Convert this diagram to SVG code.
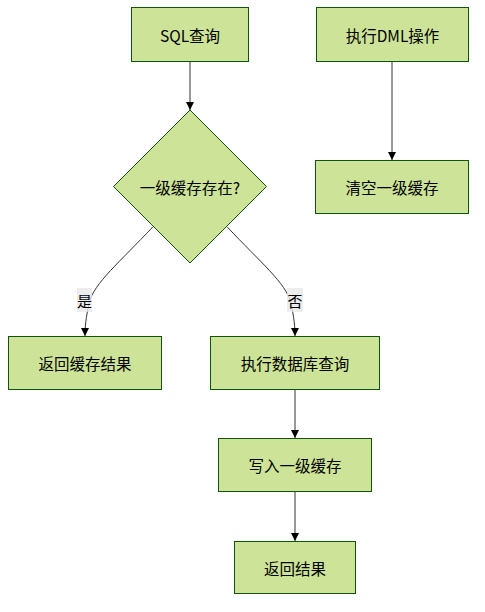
<svg xmlns="http://www.w3.org/2000/svg" width="485" height="612" viewBox="0 0 485 612">
<style>
.node rect,.node polygon{fill:#cde498;stroke:#13540c;stroke-width:1}
.node text{font-family:"Noto Sans CJK SC","Noto Sans",sans-serif;font-size:15.5px;fill:#000;text-anchor:middle;dominant-baseline:central}
.edge{fill:none;stroke:#333;stroke-width:1}
.lbl rect{fill:#e8e8e8;opacity:0.8}
.lbl text{font-family:"Noto Sans CJK SC",sans-serif;font-size:15px;fill:#000;text-anchor:middle;dominant-baseline:central}
</style>
<defs>
<marker id="arr" viewBox="0 0 10 10" refX="10" refY="5" markerWidth="8" markerHeight="8" markerUnits="userSpaceOnUse" orient="auto">
<path d="M0,0 L10,5 L0,10 z" fill="#000"/>
</marker>
</defs>
<rect width="485" height="612" fill="#fff"/>
<g id="edges">
<path class="edge" d="M190,61 L190,110" marker-end="url(#arr)"/>
<path class="edge" d="M392,61 L392,160" marker-end="url(#arr)"/>
<path class="edge" d="M152.7,227 C120,262 94,283 89,303 C86,318 85,326 85,336" marker-end="url(#arr)"/>
<path class="edge" d="M227.3,227 C260,262 286,283 291,303 C294,318 295,326 295,336" marker-end="url(#arr)"/>
<path class="edge" d="M295,389 L295,438" marker-end="url(#arr)"/>
<path class="edge" d="M295,491 L295,541" marker-end="url(#arr)"/>
<g class="lbl"><rect x="77" y="288" width="15" height="24"/><text x="84.5" y="300">是</text></g>
<g class="lbl"><rect x="287" y="288" width="16" height="24"/><text x="295" y="300">否</text></g>
</g>
<g id="sql" class="node"><rect x="131.5" y="7.5" width="117" height="54"/><text x="190" y="34.5">SQL查询</text></g>
<g id="dml" class="node"><rect x="316.5" y="7.5" width="152" height="54"/><text x="392.5" y="34.5">执行DML操作</text></g>
<g id="check" class="node"><polygon points="190,110 266.5,186.5 190,263 113.5,186.5"/><text x="190" y="186.5">一级缓存存在?</text></g>
<g id="clear" class="node"><rect x="315.5" y="160.5" width="153" height="53"/><text x="392" y="187">清空一级缓存</text></g>
<g id="retcache" class="node"><rect x="8.5" y="336.5" width="153" height="53"/><text x="85" y="363">返回缓存结果</text></g>
<g id="dbquery" class="node"><rect x="210.5" y="336.5" width="169" height="53"/><text x="295" y="363">执行数据库查询</text></g>
<g id="write" class="node"><rect x="218.5" y="438.5" width="153" height="53"/><text x="295" y="465">写入一级缓存</text></g>
<g id="ret" class="node"><rect x="234.5" y="541.5" width="121" height="52"/><text x="295" y="567.5">返回结果</text></g>
</svg>
